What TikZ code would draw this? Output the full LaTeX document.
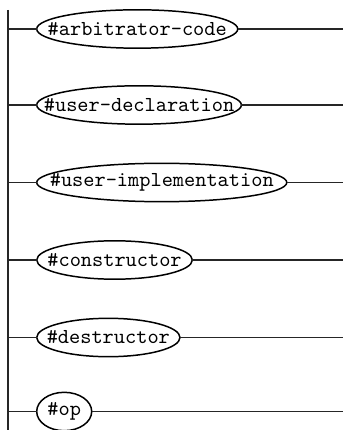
\documentclass[tikz,border=0pt]{standalone}
\usetikzlibrary{shapes.geometric}
\tikzset{
  rail/.style={line width=0.8pt, black!85},
  term/.style={shape=ellipse, draw, line width=0.7pt, inner sep=-60pt,
    outer sep=0pt, minimum height=18pt, anchor=west,
    font=\fontsize{10pt}{12pt}\ttfamily},
}
\begin{document}
\begin{tikzpicture}[x=0.469pt, y=-0.469pt]
  \useasboundingbox (0,0) rectangle (343,430);
  % main vertical rail
  \coordinate (top) at (8.3,10);
  \coordinate (bot) at (8.3,430);
  \draw[rail] (top) -- (bot);
  % alternatives
  \foreach \n/\y/\w/\t in {
      a/29/94.3pt/\#arbitrator-code,
      b/105/96pt/\#user-declaration,
      c/182.5/117.3pt/\#user-implementation,
      d/260/73.0pt/\#constructor,
      e/337.5/67.2pt/\#destructor,
      f/411.5/25.8pt/\#op} {
    \node[term, minimum width=\w] (\n) at (36.7,\y) {\t};
    \coordinate (\n L) at (8.3,\y);
    \coordinate (\n R) at (343,\y);
    \draw[rail] (\n L) -- (\n.west);
    \draw[rail] (\n.east) -- (\n R);
  }
\end{tikzpicture}
\end{document}
